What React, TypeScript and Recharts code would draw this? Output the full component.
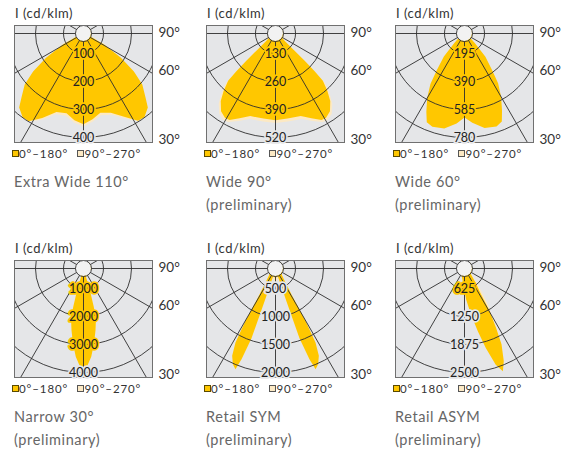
import React from 'react';
import { RadarChart, Radar, PolarGrid, PolarAngleAxis, PolarRadiusAxis } from 'recharts';

// ---------- data (gamma angle from nadir in degrees, + = right side; intensity in cd/klm) ----------
const ANGLE_TICKS = [-150, -120, -90, -60, -30, 0, 30, 60, 90, 120, 150, 180];
const SERIES_NAMES = ['0°–180°', '90°–270°'];

const extraWideAngles = [-135, -90, -66, -62, -57, -53, -49, -44, -41, -36, -32, -26, -19, -12, -6, 0, 6, 12, 19, 26, 32, 36, 41, 44, 49, 53, 57, 62, 66, 90, 135, 180];
const extraWide0 = [57, 57, 57, 112, 188, 254, 307, 348, 379, 399, 398, 365, 325, 320, 340, 353, 337, 318, 328, 360, 396, 399, 379, 348, 307, 254, 188, 112, 57, 57, 57, 57];
const extraWide90 = [57, 57, 57, 105, 182, 248, 301, 342, 373, 394, 400, 372, 333, 329, 348, 361, 345, 327, 336, 366, 397, 394, 373, 342, 301, 248, 182, 105, 57, 57, 57, 57];
const extraWideTicks = [100, 200, 300, 400];

const wide90Angles = [-135, -90, -56, -51, -48, -47, -46, -45, -42, -39, -35, -31, -28, -23, -17, -8, 0, 8, 17, 23, 28, 31, 35, 39, 42, 45, 46, 47, 48, 51, 56, 90, 135, 180];
const wide90_0 = [74, 74, 74, 91, 156, 222, 288, 348, 397, 441, 478, 493, 492, 464, 438, 436, 440, 436, 438, 464, 492, 493, 478, 441, 397, 348, 288, 222, 156, 91, 74, 74, 74, 74];
const wide90_90 = [74, 74, 84, 107, 172, 237, 302, 362, 412, 456, 492, 506, 503, 478, 452, 450, 452, 450, 452, 478, 503, 506, 492, 456, 412, 362, 302, 237, 172, 107, 84, 74, 74, 74];
const wide90Ticks = [130, 260, 390, 520];

const wide60Angles = [-135, -90, -52, -47, -42, -37, -34, -30, -26, -23, -19, -12, -5, 0, 5, 12, 19, 23, 26, 30, 34, 37, 42, 47, 52, 90, 135, 180];
const wide60_0 = [111, 111, 111, 150, 270, 378, 480, 575, 662, 728, 743, 733, 685, 641, 680, 728, 740, 721, 652, 565, 474, 374, 273, 157, 111, 111, 111, 111];
const wide60_90 = [111, 111, 111, 140, 255, 362, 463, 556, 640, 708, 725, 718, 670, 628, 668, 715, 726, 705, 635, 548, 458, 360, 260, 146, 111, 111, 111, 111];
const wide60Ticks = [195, 390, 585, 780];

const narrowAngles = [-135, -90, -17, -16, -15, -14, -11, -8, -5, -2, 0, 2, 5, 8, 11, 14, 15, 16, 17, 90, 135, 180];
const narrow0 = [571, 571, 571, 1211, 1700, 2125, 2532, 2993, 3450, 3800, 3975, 3800, 3450, 2993, 2532, 2125, 1700, 1211, 571, 571, 571, 571];
const narrow90 = [571, 571, 571, 1150, 1640, 2060, 2470, 2930, 3390, 3740, 3920, 3760, 3420, 2990, 2540, 2140, 1720, 1230, 571, 571, 571, 571];
const narrowTicks = [1000, 2000, 3000, 4000];

const symAngles = [-135, -90, -50, -45, -35.5, -31.4, -29.8, -28.4, -26.4, -24, -21.7, -20.5, -19, -18.5, -17, -10, 0, 10, 17, 18.5, 19, 20.5, 21.7, 24, 26.4, 28.4, 29.8, 31.4, 35.5, 45, 50, 90, 135, 180];
const sym0 = [286, 286, 286, 304, 446, 714, 1220, 1645, 1884, 2014, 2077, 1875, 1464, 768, 286, 286, 321, 286, 286, 768, 1464, 1875, 2077, 2014, 1884, 1645, 1220, 714, 446, 304, 286, 286, 286, 286];
const sym90 = [286, 286, 286, 300, 430, 690, 1190, 1615, 1855, 1985, 2050, 1850, 1440, 750, 330, 350, 393, 350, 330, 750, 1440, 1850, 2050, 1985, 1855, 1615, 1190, 690, 430, 300, 286, 286, 286, 286];
const symTicks = [500, 1000, 1500, 2000];

const asymAngles = [-135, -90, -20, -4, 3, 8, 12, 15, 18, 20.5, 23, 26, 28, 30.5, 33.5, 37, 42, 50, 90, 135, 180];
const asym0 = [357, 357, 357, 536, 871, 1217, 1609, 2016, 2435, 2625, 2422, 2063, 1681, 1281, 786, 620, 458, 357, 357, 357, 357];
const asym90 = [357, 357, 357, 520, 850, 1200, 1590, 2000, 2415, 2600, 2410, 2070, 1720, 1360, 1080, 800, 540, 357, 357, 357, 357];
const asymTicks = [625, 1250, 1875, 2500];

// ---------- styling / layout ----------
const FONT = 'Lato, "Open Sans", sans-serif';
const YELLOW = '#FFC700';
const CREAM = '#FCE9C4';
const BG = '#E5E6E8';
const GRID = '#2E2E2E';
const BOX_W = 139;
const BOX_H = 118;
const CX = 69.5;
const CY = 8.5;
const HUB_R = 8;
const OUTER_R = 140;

type PanelCfg = {
  title: string[];
  angles: number[];
  c0: number[];
  c90: number[];
  ticks: number[];
  halo: string[];
};

const PANELS: PanelCfg[] = [
  { title: ['Extra Wide 110°'], angles: extraWideAngles, c0: extraWide0, c90: extraWide90, ticks: extraWideTicks, halo: [YELLOW, YELLOW, YELLOW, BG] },
  { title: ['Wide 90°', '(preliminary)'], angles: wide90Angles, c0: wide90_0, c90: wide90_90, ticks: wide90Ticks, halo: [YELLOW, YELLOW, YELLOW, BG] },
  { title: ['Wide 60°', '(preliminary)'], angles: wide60Angles, c0: wide60_0, c90: wide60_90, ticks: wide60Ticks, halo: [YELLOW, YELLOW, YELLOW, BG] },
  { title: ['Narrow 30°', '(preliminary)'], angles: narrowAngles, c0: narrow0, c90: narrow90, ticks: narrowTicks, halo: [YELLOW, YELLOW, YELLOW, BG] },
  { title: ['Retail SYM', '(preliminary)'], angles: symAngles, c0: sym0, c90: sym90, ticks: symTicks, halo: [BG, BG, BG, BG] },
  { title: ['Retail ASYM', '(preliminary)'], angles: asymAngles, c0: asym0, c90: asym90, ticks: asymTicks, halo: [YELLOW, BG, BG, BG] },
];

const COL_LEFT = [13.5, 205.5, 394.5];
const ROW_TOP = [24.5, 259.8];

const makeTick = (halo: string[]) => (props: any) => {
  const { x, y, payload, index } = props;
  if (!index) return <g />;
  return (
    <text
      x={x}
      y={y}
      textAnchor="middle"
      dominantBaseline="central"
      fontSize={12.5}
      fontFamily={FONT}
      fill="#222"
      stroke={halo[index - 1]}
      strokeWidth={3.5}
      strokeLinejoin="round"
      paintOrder="stroke"
    >
      {payload.value}
    </text>
  );
};

function Panel({ cfg, left, top }: { cfg: PanelCfg; left: number; top: number }) {
  const data = cfg.angles.map((g, i) => ({ g, c0: cfg.c0[i], c90: cfg.c90[i] }));
  const step = cfg.ticks[0];
  const domain: [number, number] = [(step * 4) / 7, (step * 37) / 7];
  const rTicks = [(step * 4) / 7, ...cfg.ticks];
  const chartProps = {
    width: BOX_W,
    height: BOX_H,
    data,
    cx: CX,
    cy: CY,
    innerRadius: HUB_R,
    outerRadius: OUTER_R,
    startAngle: -270,
    endAngle: 90,
    margin: { top: 0, right: 0, bottom: 0, left: 0 },
  };
  const boxBottom = top + BOX_H;
  const textBase: React.CSSProperties = { position: 'absolute', fontFamily: FONT, whiteSpace: 'nowrap', color: '#333' };
  const degLeft = left + BOX_W + 6;
  const cyAbs = top + CY;
  const angleAxis = (
    <PolarAngleAxis dataKey="g" type="number" scale="linear" domain={[-180, 180]} ticks={ANGLE_TICKS} tick={false} tickLine={false} axisLine={false} />
  );
  return (
    <>
      <div style={{ ...textBase, left: left + 1.5, top: top - 18.5, fontSize: 13, lineHeight: '15px', letterSpacing: 0.5 }}>I (cd/klm)</div>
      <div style={{ position: 'absolute', left, top, width: BOX_W, height: BOX_H, overflow: 'hidden', background: BG }}>
        <RadarChart {...chartProps}>
          {angleAxis}
          <PolarRadiusAxis type="number" scale="linear" domain={domain} ticks={rTicks} angle={-90} axisLine={false} tick={false} allowDataOverflow />
          <Radar name={SERIES_NAMES[1]} dataKey="c90" fill={CREAM} fillOpacity={1} stroke="none" dot={false} isAnimationActive={false} />
          <Radar name={SERIES_NAMES[0]} dataKey="c0" fill={YELLOW} fillOpacity={1} stroke="none" dot={false} isAnimationActive={false} />
        </RadarChart>
      </div>
      <div
        style={{
          position: 'absolute',
          left: left + CX - HUB_R,
          top: top + CY - HUB_R,
          width: HUB_R * 2,
          height: HUB_R * 2,
          borderRadius: '50%',
          background: '#F2F2F2',
        }}
      />
      <div style={{ position: 'absolute', left, top, width: BOX_W, height: BOX_H, overflow: 'hidden' }}>
        <RadarChart {...chartProps}>
          <PolarGrid gridType="circle" stroke={GRID} strokeWidth={0.9} />
          {angleAxis}
          <PolarRadiusAxis type="number" scale="linear" domain={domain} ticks={rTicks} angle={-90} axisLine={false} tick={false} allowDataOverflow />
          <Radar dataKey="c0" fill="none" stroke="none" fillOpacity={0} dot={false} isAnimationActive={false} />
        </RadarChart>
      </div>
      <div style={{ position: 'absolute', left, top, width: BOX_W, height: BOX_H, boxSizing: 'border-box', border: '1px solid #707070' }} />
      <div style={{ position: 'absolute', left, top, width: BOX_W, height: BOX_H + 14 }}>
        <RadarChart {...chartProps} height={BOX_H + 14}>
          {angleAxis}
          <PolarRadiusAxis type="number" scale="linear" domain={domain} ticks={rTicks} angle={-90} axisLine={false} tick={makeTick(cfg.halo)} allowDataOverflow />
          <Radar dataKey="c0" fill="none" stroke="none" fillOpacity={0} dot={false} isAnimationActive={false} />
        </RadarChart>
      </div>
      <div style={{ ...textBase, left: degLeft, top: cyAbs - 1 - 8, fontSize: 13.5, lineHeight: '16px' }}>90°</div>
      <div style={{ ...textBase, left: degLeft, top: cyAbs + 37 - 8, fontSize: 13.5, lineHeight: '16px' }}>60°</div>
      <div style={{ ...textBase, left: degLeft, top: cyAbs + 106 - 8, fontSize: 13.5, lineHeight: '16px' }}>30°</div>
      <div style={{ position: 'absolute', left: left - 1.6, top: boxBottom + 7.5, width: 7, height: 7, boxSizing: 'border-box', background: YELLOW, border: '1px solid #5a4a00' }} />
      <div style={{ ...textBase, left: left + 5.5, top: boxBottom + 4.5, fontSize: 11.5, lineHeight: '13px', letterSpacing: 0.9 }}>{SERIES_NAMES[0]}</div>
      <div style={{ position: 'absolute', left: left + 63.5, top: boxBottom + 7.5, width: 7, height: 7, boxSizing: 'border-box', background: CREAM, border: '1px solid #555' }} />
      <div style={{ ...textBase, left: left + 71, top: boxBottom + 4.5, fontSize: 11.5, lineHeight: '13px', letterSpacing: 0.9 }}>{SERIES_NAMES[1]}</div>
      {cfg.title.map((t, i) => (
        <div key={t} style={{ ...textBase, color: '#666', left: left + 0.5, top: boxBottom + 39.5 + i * 23 - 9, fontSize: 14.5, lineHeight: '18px', letterSpacing: 0.6 }}>
          {t}
        </div>
      ))}
    </>
  );
}

export default function App() {
  return (
    <div style={{ position: 'absolute', left: 0, top: 0, width: 571, height: 452, background: '#fff', overflow: 'hidden' }}>
      {PANELS.map((cfg, i) => (
        <Panel key={i} cfg={cfg} left={COL_LEFT[i % 3]} top={ROW_TOP[Math.floor(i / 3)]} />
      ))}
    </div>
  );
}
